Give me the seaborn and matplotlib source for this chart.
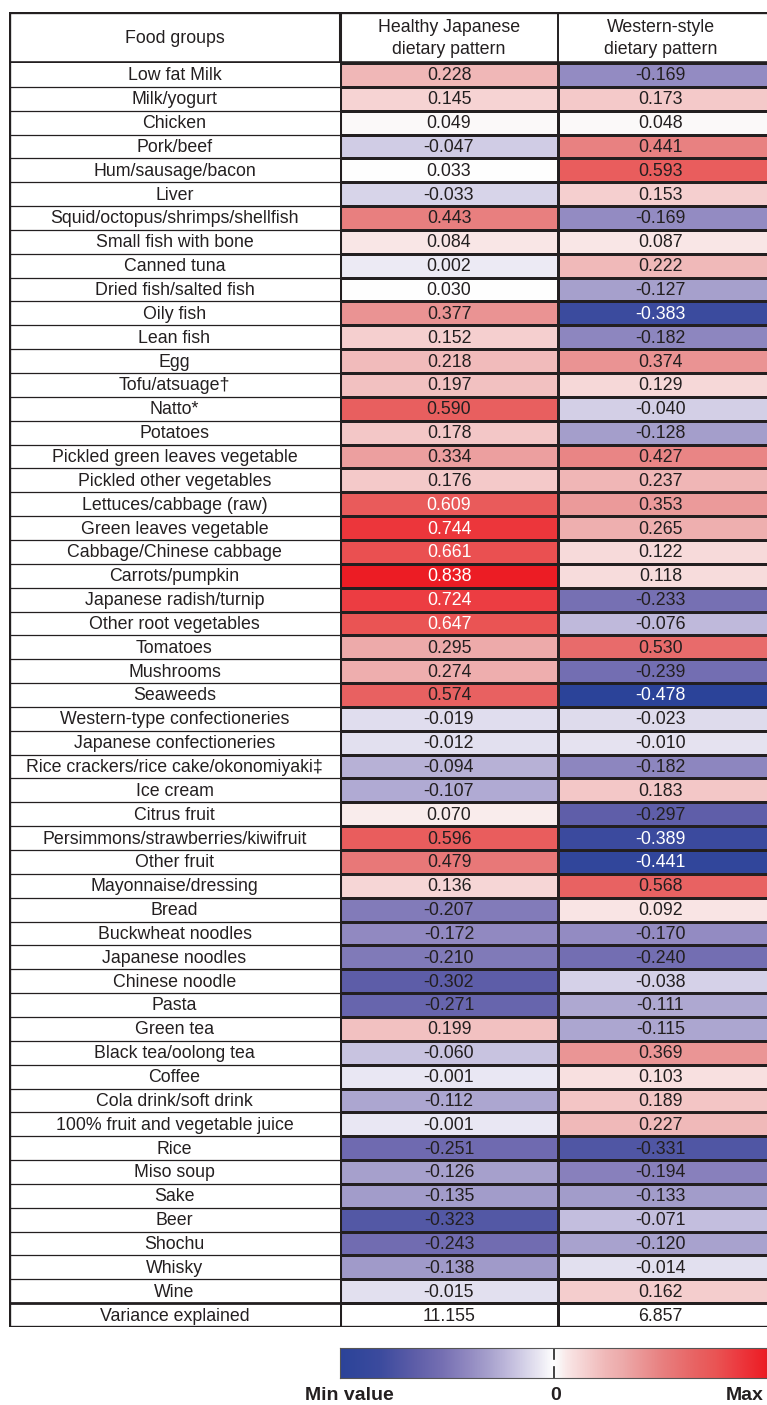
import numpy as np
import pandas as pd
import matplotlib
matplotlib.use("Agg")
import matplotlib.pyplot as plt
import seaborn as sns
from matplotlib.colors import LinearSegmentedColormap, TwoSlopeNorm

# ---------------- data ----------------
food_groups = [
    "Low fat Milk", "Milk/yogurt", "Chicken", "Pork/beef", "Hum/sausage/bacon", "Liver",
    "Squid/octopus/shrimps/shellfish", "Small fish with bone", "Canned tuna",
    "Dried fish/salted fish", "Oily fish", "Lean fish", "Egg", "Tofu/atsuage†", "Natto*",
    "Potatoes", "Pickled green leaves vegetable", "Pickled other vegetables",
    "Lettuces/cabbage (raw)", "Green leaves vegetable", "Cabbage/Chinese cabbage",
    "Carrots/pumpkin", "Japanese radish/turnip", "Other root vegetables", "Tomatoes",
    "Mushrooms", "Seaweeds", "Western-type confectioneries", "Japanese confectioneries",
    "Rice crackers/rice cake/okonomiyaki‡", "Ice cream", "Citrus fruit",
    "Persimmons/strawberries/kiwifruit", "Other fruit", "Mayonnaise/dressing", "Bread",
    "Buckwheat noodles", "Japanese noodles", "Chinese noodle", "Pasta", "Green tea",
    "Black tea/oolong tea", "Coffee", "Cola drink/soft drink",
    "100% fruit and vegetable juice", "Rice", "Miso soup", "Sake", "Beer", "Shochu",
    "Whisky", "Wine",
]
healthy_japanese = [
    0.228, 0.145, 0.049, -0.047, 0.033, -0.033, 0.443, 0.084, 0.002, 0.030, 0.377, 0.152,
    0.218, 0.197, 0.590, 0.178, 0.334, 0.176, 0.609, 0.744, 0.661, 0.838, 0.724, 0.647,
    0.295, 0.274, 0.574, -0.019, -0.012, -0.094, -0.107, 0.070, 0.596, 0.479, 0.136,
    -0.207, -0.172, -0.210, -0.302, -0.271, 0.199, -0.060, -0.001, -0.112, -0.001,
    -0.251, -0.126, -0.135, -0.323, -0.243, -0.138, -0.015,
]
western_style = [
    -0.169, 0.173, 0.048, 0.441, 0.593, 0.153, -0.169, 0.087, 0.222, -0.127, -0.383, -0.182,
    0.374, 0.129, -0.040, -0.128, 0.427, 0.237, 0.353, 0.265, 0.122, 0.118, -0.233, -0.076,
    0.530, -0.239, -0.478, -0.023, -0.010, -0.182, 0.183, -0.297, -0.389, -0.441, 0.568,
    0.092, -0.170, -0.240, -0.038, -0.111, -0.115, 0.369, 0.103, 0.189, 0.227, -0.331,
    -0.194, -0.133, -0.071, -0.120, -0.014, 0.162,
]
variance_label = "Variance explained"
variance_explained = [11.155, 6.857]
column_headers = ["Food groups", "Healthy Japanese\ndietary pattern", "Western-style\ndietary pattern"]
legend_labels = ["Min value", "0", "Max"]

# ---------------- styling ----------------
FONT = ["Liberation Sans", "DejaVu Sans"]
plt.rcParams["font.family"] = FONT
TXT = "#231F20"
LINE = "#231F20"
FS = 12.8

W, H = 767, 1405
fig = plt.figure(figsize=(W / 100, H / 100), dpi=100)

def fx(px):
    return px / W

def fy(py):
    return 1 - py / H

x_left, x_c1, x_c2, x_right = 9, 340, 558, 767
y_top, y_head, y_bot = 12, 63, 1327
n_rows = len(food_groups) + 1

cmap = LinearSegmentedColormap.from_list("bwr_custom", [
    (0.000, "#2B4399"), (0.093, "#3C4B9E"), (0.172, "#5D5DA8"), (0.240, "#7670B3"),
    (0.303, "#938BC2"), (0.344, "#A59FCC"), (0.394, "#C0BADC"), (0.423, "#D0CCE5"),
    (0.468, "#EAE8F3"), (0.500, "#FFFFFF"), (0.511, "#FAF8F8"), (0.532, "#F9E7E7"),
    (0.575, "#F5D0D0"), (0.622, "#F0B8B8"), (0.663, "#EDAAAA"), (0.755, "#E88080"),
    (0.836, "#E86262"), (0.882, "#EA5454"), (0.929, "#EC3D42"), (1.000, "#EC1C24"),
])
norm = TwoSlopeNorm(vmin=-0.478, vcenter=0.032, vmax=0.838)

df = pd.DataFrame({"Healthy": healthy_japanese + [np.nan],
                   "Western": western_style + [np.nan]},
                  index=food_groups + [variance_label])

# ---------------- heatmap axes ----------------
ax = fig.add_axes([fx(x_c1), fy(y_bot), fx(x_right - x_c1), (y_bot - y_head) / H])
sns.heatmap(df, ax=ax, cmap=cmap, norm=norm, cbar=False, annot=False,
            linewidths=0.9, linecolor=LINE, xticklabels=False, yticklabels=False)
col_w = x_c2 - x_c1
ax.set_xlim(0, (x_right - x_c1) / col_w)
ax.set_ylim(n_rows, 0)
ax.set_xlabel("")
ax.set_ylabel("")
for s in ax.spines.values():
    s.set_visible(False)

cx = [0.5, 1 + ((x_c2 + x_right) / 2 - x_c2 - 2) / col_w]
for i, (a, b) in enumerate(zip(healthy_japanese, western_style)):
    for j, v in enumerate([a, b]):
        color = "white" if (v > 0.6 or v < -0.35) else TXT
        ax.text(cx[j], i + 0.54, f"{v:.3f}", ha="center", va="center", fontsize=FS, color=color)
for j, v in enumerate(variance_explained):
    ax.text(cx[j], n_rows - 1 + 0.54, f"{v:.3f}", ha="center", va="center", fontsize=FS, color=TXT)
ax.axvline(1, color=LINE, lw=1.4)
ax.axvline(0, color=LINE, lw=2.2)
ax.axhline(n_rows - 1, color=LINE, lw=2.0)
ax.axhline(n_rows, color=LINE, lw=2.4)

# ---------------- label column ----------------
lax = fig.add_axes([fx(x_left), fy(y_bot), fx(x_c1 - x_left), (y_bot - y_head) / H])
lax.set_xlim(0, 1)
lax.set_ylim(n_rows, 0)
lax.axis("off")
for i, name in enumerate(food_groups + [variance_label]):
    lax.text(0.5, i + 0.54, name, ha="center", va="center", fontsize=FS, color=TXT)
for k in range(1, n_rows):
    lax.axhline(k, color=LINE, lw=2.0 if k == n_rows - 1 else 0.9)
lax.axhline(n_rows, color=LINE, lw=2.4)
lax.axvline(0, color=LINE, lw=2.4)

# ---------------- header ----------------
hax = fig.add_axes([fx(x_left), fy(y_head), fx(x_right - x_left), (y_head - y_top) / H])
hax.set_xlim(x_left, x_right)
hax.set_ylim(y_head, y_top)
hax.axis("off")
hax.axhline(y_top, color=LINE, lw=2.4)
hax.axhline(y_head, color=LINE, lw=2.6)
hax.axvline(x_left, color=LINE, lw=2.4)
hax.axvline(x_c1, color=LINE, lw=2.2)
hax.axvline(x_c2, color=LINE, lw=1.4)
hx = [(x_left + x_c1) / 2, (x_c1 + x_c2) / 2, (x_c2 + x_right) / 2 - 2]
for x, t in zip(hx, column_headers):
    hax.text(x, (y_top + y_head) / 2 + 1, t, ha="center", va="center", fontsize=FS,
             color=TXT, linespacing=1.35)

# ---------------- colour legend ----------------
cax = fig.add_axes([fx(340), fy(1378), fx(767 - 340), 30 / H])
grad = np.linspace(0, 1, 512)[None, :]
cax.imshow(grad, aspect="auto", cmap=cmap, extent=[0, 1, 0, 1])
cax.set_xlim(0, 1)
cax.set_ylim(0, 1)
cax.set_xticks([])
cax.set_yticks([])
for s in cax.spines.values():
    s.set_color("#555555")
    s.set_linewidth(0.8)
cax.plot([0.5, 0.5], [0.62, 1.0], color="#222222", lw=1.2)
cax.plot([0.5, 0.5], [0.0, 0.38], color="#222222", lw=1.2)

for x, t in zip([349, 556, 745], legend_labels):
    fig.text(fx(x), fy(1395), t, ha="center", va="center", fontsize=14, fontweight="bold", color=TXT)

fig.savefig("out.png", dpi=100)
